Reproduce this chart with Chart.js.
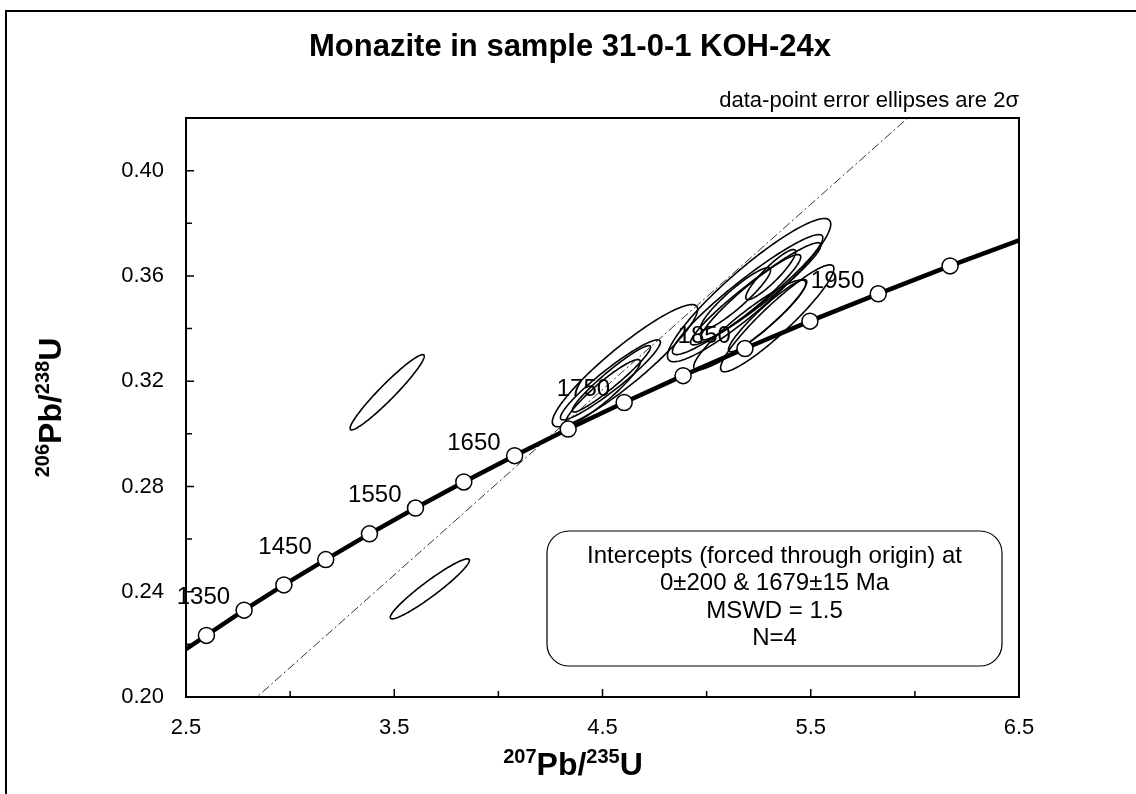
<!DOCTYPE html>
<html>
<head>
<meta charset="utf-8">
<script src="https://cdn.jsdelivr.net/npm/chart.js@4.4.1/dist/chart.umd.min.js"></script>
<style>
  html, body { margin: 0; padding: 0; background: #fff; }
  #wrap { position: relative; width: 1136px; height: 794px; }
</style>
</head>
<body>
<div id="wrap"><canvas id="c"></canvas></div>
<script>
const FONT = '"Liberation Sans", Arial, sans-serif';

const titleText = 'Monazite in sample 31-0-1 KOH-24x';
const noteText = 'data-point error ellipses are 2\u03c3';
const boxLines = ['Intercepts (forced through origin) at', '0\u00b1200 & 1679\u00b115 Ma', 'MSWD = 1.5', 'N=4'];

// axis ticks
const xTicks = [2.5, 3.0, 3.5, 4.0, 4.5, 5.0, 5.5, 6.0, 6.5];
const xLabels = ['2.5', '', '3.5', '', '4.5', '', '5.5', '', '6.5'];
const yTicks = [0.20, 0.22, 0.24, 0.26, 0.28, 0.30, 0.32, 0.34, 0.36, 0.38, 0.40, 0.42];
const yLabels = ['0.20', '', '0.24', '', '0.28', '', '0.32', '', '0.36', '', '0.40', ''];

// concordia age marks (Ma) and where they sit
const concAges = [1300, 1350, 1400, 1450, 1500, 1550, 1600, 1650, 1700, 1750, 1800, 1850, 1900, 1950, 2000];
const concX = [2.598, 2.779, 2.970, 3.171, 3.381, 3.602, 3.834, 4.078, 4.335, 4.604, 4.887, 5.184, 5.496, 5.824, 6.169];
const concY = [0.2234, 0.2330, 0.2426, 0.2522, 0.2620, 0.2718, 0.2817, 0.2917, 0.3018, 0.3119, 0.3221, 0.3324, 0.3428, 0.3532, 0.3638];
const labelAges = [1350, 1450, 1550, 1650, 1750, 1850, 1950];
// where the curve meets the plot edges
const curveStart = [2.5, 0.2182];
const curveEnd = [6.5, 0.3735];

// discordia through origin
const discX = [0, 6.5];
const discY = [0, 0.4576];

// error ellipses: centre, half-extent in x and y, correlation
const ellCx  = [3.466, 3.671, 4.608, 4.538, 4.543, 4.502, 5.204, 5.197, 5.236, 5.139, 5.207, 5.339, 5.293, 5.212, 5.308];
const ellCy  = [0.3158, 0.2411, 0.3259, 0.3205, 0.3209, 0.3158, 0.3546, 0.3529, 0.3532, 0.3513, 0.3414, 0.3439, 0.3449, 0.3519, 0.3605];
const ellSx  = [0.178, 0.190, 0.349, 0.240, 0.188, 0.180, 0.392, 0.361, 0.313, 0.168, 0.269, 0.272, 0.188, 0.240, 0.120];
const ellSy  = [0.0143, 0.0114, 0.0232, 0.0152, 0.0126, 0.0124, 0.0272, 0.0228, 0.0194, 0.0118, 0.0171, 0.0203, 0.0137, 0.0162, 0.0095];
const ellRho = [0.958, 0.950, 0.921, 0.943, 0.954, 0.931, 0.921, 0.947, 0.954, 0.921, 0.925, 0.931, 0.940, 0.945, 0.907];

const circlePts = concX.map((v, i) => ({ x: v, y: concY[i] }));
const curvePts = [{ x: curveStart[0], y: curveStart[1] }].concat(circlePts, [{ x: curveEnd[0], y: curveEnd[1] }]);
const discPts = discX.map((v, i) => ({ x: v, y: discY[i] }));

const ellipses = {
  id: 'ellipses',
  beforeDatasetsDraw(chart) {
    const { ctx, chartArea: ca, scales: { x, y } } = chart;
    ctx.save();
    ctx.beginPath();
    ctx.rect(ca.left, ca.top, ca.width, ca.height);
    ctx.clip();
    ctx.strokeStyle = '#000';
    ctx.lineWidth = 1.6;
    ellCx.forEach((cx, i) => {
      const sx = ellSx[i], sy = ellSy[i], r = ellRho[i], q = Math.sqrt(1 - r * r);
      ctx.beginPath();
      for (let k = 0; k <= 160; k++) {
        const t = k / 160 * Math.PI * 2;
        const px = x.getPixelForValue(cx + sx * Math.cos(t));
        const py = y.getPixelForValue(ellCy[i] + sy * (r * Math.cos(t) + q * Math.sin(t)));
        if (k) ctx.lineTo(px, py); else ctx.moveTo(px, py);
      }
      ctx.closePath();
      ctx.stroke();
    });
    ctx.restore();
  }
};

const ageLabels = {
  id: 'ageLabels',
  afterDatasetsDraw(chart) {
    const { ctx, scales: { x, y } } = chart;
    ctx.save();
    ctx.fillStyle = '#000';
    ctx.font = '24px ' + FONT;
    ctx.textAlign = 'right';
    ctx.textBaseline = 'alphabetic';
    concAges.forEach((age, i) => {
      if (!labelAges.includes(age)) return;
      const px = x.getPixelForValue(concX[i]);
      const py = y.getPixelForValue(concY[i]);
      ctx.fillText(String(age), px - 14, py - 6);
    });
    ctx.restore();
  }
};

// draws "207Pb/235U" style text with small raised mass numbers
function isoText(ctx, parts, cx, cy) {
  const big = 'bold 32px ' + FONT, small = 'bold 20px ' + FONT;
  let w = 0;
  parts.forEach(p => { ctx.font = p[1] ? small : big; w += ctx.measureText(p[0]).width; });
  let xx = cx - w / 2;
  parts.forEach(p => {
    ctx.font = p[1] ? small : big;
    ctx.fillText(p[0], xx, p[1] ? cy - 12 : cy);
    xx += ctx.measureText(p[0]).width;
  });
}

const decor = {
  id: 'decor',
  afterDraw(chart) {
    const { ctx, chartArea: ca, scales: { x, y } } = chart;
    ctx.save();
    // outer frame
    ctx.strokeStyle = '#000';
    ctx.lineWidth = 2;
    ctx.strokeRect(6, 11, 1400, 1000);
    // plot frame
    ctx.lineWidth = 2;
    ctx.strokeRect(ca.left, ca.top, ca.width, ca.height);
    // inward ticks
    ctx.lineWidth = 1.5;
    ctx.beginPath();
    x.ticks.forEach((t, i) => {
      const px = x.getPixelForValue(t.value);
      const len = xLabels[i] ? 8 : 6;
      ctx.moveTo(px, ca.bottom);
      ctx.lineTo(px, ca.bottom - len);
    });
    y.ticks.forEach((t, i) => {
      const py = y.getPixelForValue(t.value);
      const len = yLabels[i] ? 8 : 6;
      ctx.moveTo(ca.left, py);
      ctx.lineTo(ca.left + len, py);
    });
    ctx.stroke();

    ctx.fillStyle = '#000';
    // title
    ctx.font = 'bold 31px ' + FONT;
    ctx.textAlign = 'center';
    ctx.textBaseline = 'middle';
    ctx.fillText(titleText, 570, 47);
    // note
    ctx.font = '22px ' + FONT;
    ctx.textAlign = 'right';
    ctx.fillText(noteText, ca.right, 101);

    // axis titles
    ctx.textAlign = 'left';
    ctx.textBaseline = 'alphabetic';
    isoText(ctx, [['207', 1], ['Pb/', 0], ['235', 1], ['U', 0]], 573, 775);
    ctx.save();
    ctx.translate(61, (ca.top + ca.bottom) / 2);
    ctx.rotate(-Math.PI / 2);
    isoText(ctx, [['206', 1], ['Pb/', 0], ['238', 1], ['U', 0]], 0, 0);
    ctx.restore();

    // results box
    const bw = 455, bh = 135;
    const bx = ca.right - 17 - bw, by = ca.bottom - 31 - bh;
    ctx.lineWidth = 1.2;
    ctx.beginPath();
    ctx.roundRect(bx, by, bw, bh, 22);
    ctx.fillStyle = '#fff';
    ctx.fill();
    ctx.stroke();
    ctx.fillStyle = '#000';
    ctx.font = '24px ' + FONT;
    ctx.textAlign = 'center';
    ctx.textBaseline = 'middle';
    boxLines.forEach((s, i) => ctx.fillText(s, bx + bw / 2, by + 25 + i * 27.5));
    ctx.restore();
  }
};

new Chart(document.getElementById('c').getContext('2d'), {
  type: 'scatter',
  data: {
    datasets: [
      {
        label: 'ages',
        data: circlePts,
        pointRadius: 8,
        pointBackgroundColor: '#fff',
        pointBorderColor: '#000',
        pointBorderWidth: 1.5,
        showLine: false,
        order: 0
      },
      {
        label: 'concordia',
        data: curvePts,
        showLine: true,
        borderColor: '#000',
        borderWidth: 4.5,
        pointRadius: 0,
        order: 1
      },
      {
        label: 'discordia',
        data: discPts,
        showLine: true,
        borderColor: '#333',
        borderWidth: 1,
        borderDash: [9, 3, 2, 3],
        pointRadius: 0,
        order: 2
      }
    ]
  },
  options: {
    responsive: true,
    maintainAspectRatio: false,
    animation: false,
    layout: { padding: { top: 118, right: 117, left: 0, bottom: 0 } },
    plugins: {
      legend: { display: false },
      tooltip: { enabled: false }
    },
    scales: {
      x: {
        type: 'linear',
        min: 2.5,
        max: 6.5,
        afterBuildTicks: s => { s.ticks = xTicks.map(v => ({ value: v })); },
        afterFit: s => { s.height = 97; },
        grid: { display: false, drawTicks: false },
        border: { display: false },
        ticks: {
          autoSkip: false,
          maxRotation: 0,
          padding: 18,
          color: '#000',
          font: { family: FONT, size: 22 },
          callback: (v, i) => xLabels[i]
        }
      },
      y: {
        type: 'linear',
        min: 0.20,
        max: 0.42,
        afterBuildTicks: s => { s.ticks = yTicks.map(v => ({ value: v })); },
        afterFit: s => { s.width = 186; },
        grid: { display: false, drawTicks: false },
        border: { display: false },
        ticks: {
          autoSkip: false,
          padding: 22,
          color: '#000',
          font: { family: FONT, size: 22 },
          callback: (v, i) => yLabels[i]
        }
      }
    }
  },
  plugins: [ellipses, ageLabels, decor]
});
</script>
</body>
</html>
